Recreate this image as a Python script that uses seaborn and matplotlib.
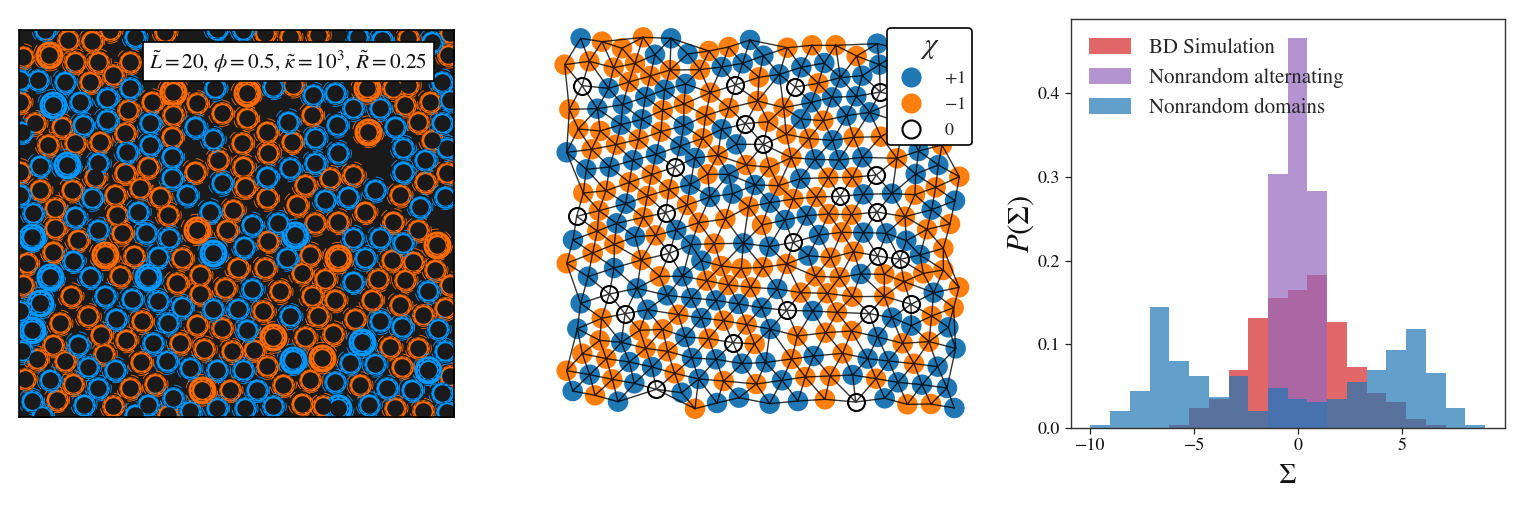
import numpy as np
import pandas as pd
import matplotlib.pyplot as plt
import matplotlib.tri as mtri
from matplotlib.lines import Line2D
import seaborn as sns

sns.set_theme(style='ticks')
plt.rcParams['font.family'] = ['STIXGeneral', 'Liberation Serif', 'DejaVu Serif']
plt.rcParams['mathtext.fontset'] = 'stix'

#Panel 1: ring positions, kept in one position unit (1/3 px)
blue_rings = [(105,30),(620,25),(700,30),(1045,50),(1115,60),(1265,65),(375,50),(85,180),(165,185),(360,205),
    (1295,185),(30,180),(615,205),(790,200),(910,225),(975,220),(210,245),(290,235),(1030,265),(1110,265),
    (218,315),(290,300),(1320,240),(420,310),(555,320),(835,305),(980,315),(1155,320),(1295,310),(35,335),
    (610,358),(915,355),(420,375),(350,395),(985,400),(1180,385),(1310,385),(90,437),(265,430),(485,410),
    (915,430),(1245,420),(840,445),(770,470),(1180,455),(485,475),(635,490),(1095,510),(245,535),(530,525),
    (945,540),(1015,530),(1305,530),(70,580),(195,590),(385,575),(600,575),(30,525),(1230,560),
    (265,630),(408,640),(478,655),(725,615),(805,610),(1030,655),(1110,655),(1180,670),(445,710),(703,680),
    (1065,715),(830,715),(190,722),(240,770),(1030,785),(727,808),(1255,815),(285,828),(365,838),(445,845),
    (90,850),(515,862),(610,868),(685,868),(30,875),(318,897),(840,890),(1110,905),(475,910),(712,930),
    (1175,922),(1285,928),(430,970),(205,975),(1305,995),(35,995),(470,1025),(1020,1030),(1095,1033),
    (235,1043),(315,1050),(540,1045),(622,1050),(700,1052),(1255,1050),(120,1080),(975,1087),(265,1105),
    (1130,1105),(1205,1110),(740,1110),(490,1135),(1295,1120),(65,1145),(222,1155),(415,1155),(620,1165),
    (790,1160),(985,1165),(1078,1155),(540,1175),(705,1165),(375,1185),(95,1190),(1310,1178)]
orange_rings = [(175,60),(245,62),(300,30),(465,35),(765,40),(840,50),(925,45),(1195,55),(1320,40),(195,125),
    (265,125),(40,110),(360,125),(1315,105),(240,185),(310,165),(850,195),(1150,205),(1195,195),(425,245),
    (30,245),(355,270),(560,250),(1260,245),(1185,255),(75,310),(155,320),(490,285),(635,280),(710,295),
    (905,285),(345,340),(770,335),(1225,305),(115,375),(195,370),(270,365),(485,350),(695,370),(845,365),
    (1265,360),(775,400),(625,420),(30,455),(255,470),(345,458),(415,440),(555,455),(700,440),(1030,465),
    (1310,460),(90,510),(185,510),(960,475),(1245,485),(315,525),(390,505),(450,530),(705,500),(885,495),
    (770,535),(1170,525),(860,555),(135,565),(320,585),(475,585),(670,570),(1065,575),
    (135,625),(203,660),(335,640),(650,630),(915,610),(985,605),(1150,605),(1225,630),(130,695),(373,707),
    (515,715),(775,662),(900,705),(1145,720),(1210,725),(50,730),(683,745),(765,745),(875,760),(1275,750),
    (330,768),(570,765),(945,778),(1105,778),(1185,780),(40,795),(500,790),(645,805),(810,815),(570,822),
    (905,830),(1320,795),(183,828),(975,840),(1085,840),(1170,855),(760,875),(1305,865),(235,890),(395,905),
    (925,890),(1240,887),(1035,898),(150,910),(560,915),(637,925),(272,945),(348,960),(510,970),(885,952),
    (970,942),(130,975),(583,988),(665,995),(732,990),(1140,982),(1225,985),(283,1002),(80,1018),(165,1025),
    (392,1028),(770,1040),(1175,1042),(45,1078),(190,1092),(900,1080),(1050,1095),(1320,1070),(820,1095),
    (360,1105),(435,1093),(660,1110),(140,1140),(310,1160),(875,1152),(940,1160),(1155,1165),(1240,1175),
    (475,1185)]
#rings that look wide and heavy in the picture
blue_heavy = [(130,255),(170,435),(610,700),(415,770),(120,770),(90,850),(855,645),(65,932),(1055,968),
    (848,1020),(65,650),(1255,1050),(985,1165)]
orange_heavy = [(118,105),(490,215),(710,220),(1070,205),(1075,335),(285,705),(560,630),(1280,675),(790,953),
    (937,1015),(985,715),(575,1112)]
panel_note = r'$\tilde{L}=20$, $\phi=0.5$, $\tilde{\kappa}=10^3$, $\tilde{R}=0.25$'

#Panel 2: particle positions, same unit
plus_pts = [(122,55),(393,55),(630,60),(1012,71),(345,104),(443,102),(670,107),(1018,134),(545,141),(608,130),
    (718,163),(784,142),(853,129),(901,173),(967,167),(206,205),(374,209),(437,192),(316,231),(248,254),
    (814,247),(876,232),(949,229),(172,266),(920,287),(989,277),(306,298),(243,314),(431,317),(783,297),
    (545,328),(878,361),(421,378),(589,373),(80,397),(348,403),(279,421),(465,414),(825,418),(897,420),
    (967,412),(1136,393),(139,448),(209,441),(566,463),(1127,462),(1195,435),(451,494),(645,495),(781,476),
    (510,531),(578,521),(970,523),(1056,521),(257,551),(690,548),(1245,542),(1175,569),(800,587),
    (230,610),(99,660),(285,650),(409,630),(735,600),(970,638),(1039,640),(1099,662),(453,674),(610,670),
    (688,680),(837,645),(1140,705),(484,722),(805,707),(222,744),(144,770),(428,769),(962,762),(712,807),
    (291,805),(382,826),(454,834),(528,841),(596,852),(1181,818),(122,850),(322,869),(665,863),(818,873),
    (484,894),(1056,893),(112,926),(691,927),(1114,917),(1225,922),(436,951),(1013,951),(244,967),(1247,985),
    (456,1014),(528,1018),(821,1008),(606,1031),(677,1027),(983,1016),(1046,1023),(268,1026),(336,1041),
    (1193,1040),(149,1064),(283,1090),(476,1077),(726,1081),(938,1065),(1074,1087),(1146,1094),(1221,1104),
    (98,1113),(234,1145),(425,1118),(531,1149),(597,1133),(689,1151),(774,1143),(1034,1135),(1243,1164)]
minus_pts = [(186,65),(246,85),(309,52),(742,83),(816,76),(887,76),(950,108),(74,134),(148,124),(221,143),
    (285,130),(507,93),(566,81),(390,150),(331,168),(480,149),(267,186),(657,172),(835,190),(511,218),
    (432,252),(88,268),(368,271),(567,264),(653,243),(731,263),(497,287),(850,302),(685,305),(115,327),
    (181,333),(363,335),(296,358),(739,343),(807,356),(941,352),(1023,350),(228,374),(155,388),(488,355),
    (533,406),(754,413),(1071,415),(1206,375),(619,435),(689,442),(503,463),(335,464),(268,487),(716,497),
    (865,473),(937,472),(1258,470),(130,519),(198,512),(387,508),(322,528),(1125,524),(1187,502),(441,555),
    (626,560),(760,537),(829,531),(177,572),(310,592),(476,608),(556,597),(866,582),(935,584),(1095,590),
    (1161,628),(1230,612),(172,633),(347,646),(666,615),(905,637),(223,673),(158,699),(523,671),(941,695),
    (1210,685),(80,730),(304,720),(872,713),(740,732),(359,769),(544,738),(604,745),(669,742),(826,769),
    (899,772),(1033,763),(1150,760),(1210,750),(500,782),(565,795),(632,802),(782,818),(862,820),(1092,785),
    (1257,802),(937,830),(1033,829),(415,884),(185,895),(891,877),(1241,863),(1175,888),(551,902),(620,914),
    (299,931),(368,928),(179,961),(506,956),(644,972),(772,948),(857,938),(935,933),(1088,970),(1167,965),
    (317,985),(383,994),(127,1001),(199,1016),(908,1000),(755,1017),(1122,1031),(404,1060),(80,1052),
    (217,1078),(551,1083),(649,1092),(796,1071),(870,1068),(1008,1076),(165,1126),(855,1138),(1102,1153),
    (1173,1152),(465,1166)]
zero_pts = [(126,197),(586,195),(766,201),(1021,216),(616,311),(670,373),(404,441),(1009,465),(900,529),
    (110,589),(377,578),(1011,576),(388,700),(759,667),(1013,708),(1080,718),(208,822),(255,881),(740,871),
    (988,881),(1113,853),(579,968),(349,1108),(947,1146)]
#estimated: these sit behind the legend box, only their bonds come out from under it
under_legend = [(1090,90),(1160,75),(1230,90),(1090,165),(1160,150),(1235,160),(1090,235),(1165,225),(1240,235),
    (1090,310),(1165,300),(1240,310)]

#Panel 3: histogram heights, bins run from -10 to 9
bin_edges = [-10,-9.05,-8.1,-7.15,-6.2,-5.25,-4.3,-3.35,-2.4,-1.45,-0.5,0.45,1.4,2.35,3.3,4.25,5.2,6.15,7.1,8.05,9]
bin_mids = [-9.525,-8.575,-7.625,-6.675,-5.725,-4.775,-3.825,-2.875,-1.925,-0.975,-0.025,0.925,1.875,2.825,3.775,4.725,5.675,6.625,7.575,8.525]
bd_sim = [0,0,0,0,0.003,0.024,0.034,0.069,0.131,0.155,0.165,0.183,0.127,0.073,0.041,0.031,0.010,0.003,0,0]
nr_alt = [0,0,0,0,0,0,0,0,0,0.304,0.466,0.283,0,0,0,0,0,0,0,0]
nr_dom = [0.003,0.020,0.044,0.145,0.080,0.062,0.037,0.062,0.020,0.048,0.034,0.031,0.034,0.055,0.069,0.093,0.118,0.066,0.024,0.003]
hist_names = ['BD Simulation', 'Nonrandom alternating', 'Nonrandom domains']

W, H = 1524, 508
def px_axes(fig, left, top, right, bottom):
    return fig.add_axes([left/W, 1-bottom/H, (right-left)/W, (bottom-top)/H])

def px_area(d):
    return (d*0.72)**2

fig = plt.figure(figsize=(W/100, H/100), dpi=100)

#Part 1: rings, strands first, then a dark gap ring, then the dark hole on top of everything
ax1 = px_axes(fig, 19, 29.5, 454, 417)
ax1.set_facecolor('#1a1a1a')
for pts, color, outer in [(orange_rings,'#ff6a00',22.5), (blue_rings,'#0096ff',22.5),
                          (orange_heavy,'#ff6a00',28), (blue_heavy,'#0096ff',28)]:
    df = pd.DataFrame(pts, columns=['x','y'])
    sns.scatterplot(data=df, x='x', y='y', s=px_area(outer+3.5), facecolor='none', edgecolor=color,
                    linewidth=0.6, linestyle=(0,(10,9)), ax=ax1, zorder=2)
    sns.scatterplot(data=df, x='x', y='y', s=px_area(outer), color=color, linewidth=0, ax=ax1, zorder=2)
all_rings = pd.DataFrame(orange_rings+blue_rings+orange_heavy+blue_heavy, columns=['x','y'])
sns.scatterplot(data=all_rings, x='x', y='y', s=px_area(20.5), facecolor='none', edgecolor='#1a1a1a',
                linewidth=0.4, linestyle=(0,(6,4)), alpha=0.9, ax=ax1, zorder=3)
sns.scatterplot(data=all_rings, x='x', y='y', s=px_area(16.5), color='#1a1a1a', linewidth=0, ax=ax1, zorder=4)
ax1.set_xlim(27, 1332)
ax1.set_ylim(1192, 28)
ax1.set_xticks([])
ax1.set_yticks([])
ax1.set_xlabel('')
ax1.set_ylabel('')
for s in ax1.spines.values():
    s.set_linewidth(1.2)
    s.set_color('black')
    s.set_zorder(8)
ax1.annotate(panel_note, xy=(835,125), ha='center', va='center', fontsize=15.3, color='#111111', zorder=10,
             bbox=dict(boxstyle='square,pad=0.3', fc='white', ec='black', lw=1.2))

#Part 2: particle network
ax2 = px_axes(fig, 540, 20, 990, 440)
frames = [pd.DataFrame(plus_pts + under_legend, columns=['x','y']).assign(chi='+1'),
          pd.DataFrame(minus_pts, columns=['x','y']).assign(chi='-1')]
net = pd.concat(frames, ignore_index=True)
sns.scatterplot(data=net, x='x', y='y', hue='chi', palette={'+1':'#1f77b4','-1':'#ff7f0e'},
                s=px_area(20.5), linewidth=0, legend=False, ax=ax2, zorder=2)
sns.scatterplot(data=pd.DataFrame(zero_pts, columns=['x','y']), x='x', y='y', s=px_area(17),
                facecolor='white', edgecolor='black', linewidth=1.5, ax=ax2, zorder=2)
every = plus_pts + under_legend + minus_pts + zero_pts
xs = np.array([p[0] for p in every])
ys = np.array([p[1] for p in every])
net_tri = mtri.Triangulation(xs, ys)
#long thin triangles along the outline are not bonds
a = net_tri.triangles
side = np.max([np.hypot(xs[a[:,i]]-xs[a[:,(i+1)%3]], ys[a[:,i]]-ys[a[:,(i+1)%3]]) for i in range(3)], axis=0)
net_tri.set_mask(side > 135)
ax2.triplot(net_tri, color='black', lw=1.0, alpha=0.8, marker='', zorder=3)
ax2.set_xlim(0, 1350)
ax2.set_ylim(1260, 0)
ax2.axis('off')
chi_handles = [Line2D([], [], ls='', marker='o', ms=14.5, mfc='#1f77b4', mec='none', label='$+1$'),
               Line2D([], [], ls='', marker='o', ms=14.5, mfc='#ff7f0e', mec='none', label='$-1$'),
               Line2D([], [], ls='', marker='o', ms=13, mfc='white', mec='black', mew=1.5, label='$0$')]
leg2 = ax2.legend(handles=chi_handles, title=r'$\chi$', loc='upper left', bbox_to_anchor=(347/450, 1-8/420),
                  borderaxespad=0, frameon=True, fontsize=13, title_fontsize=21, fancybox=True, framealpha=1,
                  edgecolor='black', labelspacing=0.52, handletextpad=0.85, borderpad=0.33)
leg2.get_frame().set_linewidth(1.2)
leg2.set_zorder(10)

#Part 3: histograms
ax3 = px_axes(fig, 1070.7, 19, 1505, 427.7)
for vals, color, name in zip([bd_sim, nr_alt, nr_dom], ['#d62728','#9467bd','#1f77b4'], hist_names):
    sns.histplot(x=bin_mids, weights=vals, bins=bin_edges, color=color, alpha=0.7, linewidth=0, label=name, ax=ax3)
ax3.set_xlim(-10.95, 9.96)
ax3.set_ylim(0, 0.489)
ax3.set_xticks([-10,-5,0,5])
ax3.set_yticks([0,0.1,0.2,0.3,0.4])
ax3.tick_params(labelsize=13, length=4, width=0.9, color='#222222', labelcolor='#111111')
ax3.set_xlabel(r'$\Sigma$', fontsize=20, color='#111111', labelpad=7)
ax3.set_ylabel(r'$P(\Sigma)$', fontsize=22, color='#111111', labelpad=1)
for s in ax3.spines.values():
    s.set_linewidth(1.0)
    s.set_color('#333333')
ax3.legend(loc='upper left', frameon=False, fontsize=15, handlelength=2.0, handleheight=0.85, handletextpad=0.85,
           labelspacing=0.45, borderaxespad=0.5)

fig.savefig('out.png', dpi=100)
